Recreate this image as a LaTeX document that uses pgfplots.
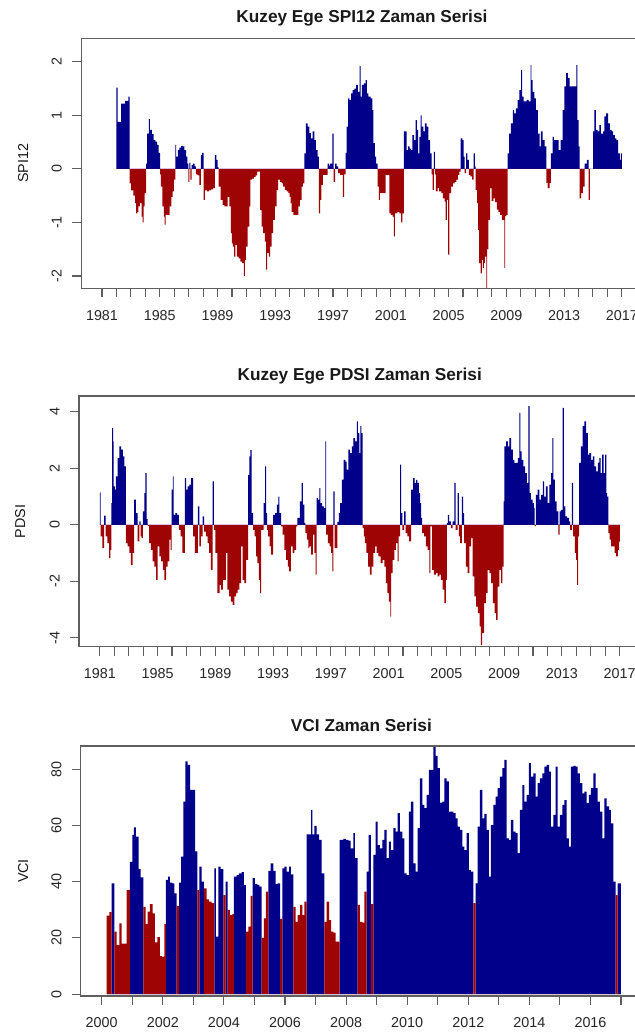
\documentclass[border=0pt]{standalone}
\usepackage{fontspec}
\setmainfont{Liberation Sans}
\usepackage{pgfplots}
\usepackage{pgfplotstable}
\pgfplotsset{compat=1.18}

\definecolor{barblue}{RGB}{0,0,139}
\definecolor{barred}{RGB}{158,4,4}
\definecolor{frame}{RGB}{95,95,95}

% SPI12: value holds from t to the next t
\pgfplotstableread{
t v
1982.00 1.52
1982.08 0.88
1982.32 1.22
1982.60 1.27
1982.82 1.35
1982.92 -0.27
1983.01 -0.40
1983.17 -0.50
1983.29 -0.64
1983.36 -0.83
1983.45 -0.80
1983.52 -0.70
1983.63 -0.64
1983.75 -0.89
1983.82 -1.00
1983.88 -0.70
1983.95 -0.45
1984.05 0.10
1984.12 0.66
1984.24 0.93
1984.32 0.73
1984.45 0.65
1984.58 0.54
1984.70 0.51
1984.82 0.45
1984.93 0.30
1985.02 -0.10
1985.08 -0.33
1985.18 -0.70
1985.28 -0.89
1985.34 -1.04
1985.40 -0.86
1985.68 -0.70
1985.80 -0.52
1985.90 -0.42
1985.98 -0.20
1986.08 0.45
1986.14 0.23
1986.25 0.35
1986.36 0.40
1986.48 0.43
1986.60 0.42
1986.70 0.35
1986.82 0.23
1986.92 0.10
1986.98 -0.24
1987.06 0.12
1987.12 -0.20
1987.20 0.07
1987.30 0.10
1987.42 0.05
1987.50 -0.10
1987.62 -0.12
1987.74 -0.30
1987.84 0.26
1987.94 0.30
1988.04 -0.58
1988.12 -0.40
1988.28 -0.42
1988.40 -0.40
1988.55 -0.38
1988.70 -0.36
1988.82 0.26
1988.92 0.17
1989.00 0.03
1989.08 -0.33
1989.22 -0.58
1989.35 -0.67
1989.47 -0.70
1989.60 -0.70
1989.70 -0.52
1989.82 -0.70
1989.93 -1.20
1990.00 -1.39
1990.07 -1.45
1990.15 -1.64
1990.24 -1.42
1990.34 -1.64
1990.46 -1.67
1990.58 -1.73
1990.70 -1.76
1990.82 -2.00
1990.89 -1.70
1990.97 -1.45
1991.08 -1.08
1991.20 -0.70
1991.28 -0.20
1991.40 -0.18
1991.52 -0.15
1991.64 -0.12
1991.75 -0.05
1991.95 -0.77
1992.06 -1.08
1992.16 -1.20
1992.28 -1.36
1992.37 -1.88
1992.44 -1.57
1992.55 -1.64
1992.64 -1.45
1992.75 -1.20
1992.86 -0.95
1992.97 -0.70
1993.09 -0.39
1993.20 -0.20
1993.32 -0.24
1993.44 -0.27
1993.55 -0.33
1993.67 -0.39
1993.79 -0.42
1993.90 -0.45
1994.00 -0.52
1994.06 -0.64
1994.14 -0.80
1994.25 -0.86
1994.60 -0.70
1994.70 -0.58
1994.82 -0.33
1994.92 -0.27
1995.02 0.29
1995.12 0.85
1995.24 0.79
1995.36 0.67
1995.47 0.57
1995.58 0.70
1995.70 0.54
1995.82 0.35
1995.93 0.23
1996.02 -0.83
1996.10 -0.58
1996.20 -0.30
1996.29 -0.11
1996.62 0.10
1996.72 0.06
1996.79 0.10
1996.96 0.66
1997.04 -0.24
1997.14 0.10
1997.25 0.05
1997.36 -0.08
1997.50 -0.11
1997.68 -0.52
1997.76 -0.10
1997.88 0.30
1997.94 0.79
1998.04 1.32
1998.14 1.29
1998.25 1.41
1998.36 1.47
1998.48 1.50
1998.60 1.57
1998.72 1.44
1998.84 1.92
1998.91 1.35
1999.00 1.57
1999.14 1.60
1999.25 1.66
1999.34 1.41
1999.45 1.35
1999.60 1.32
1999.72 1.10
1999.80 0.48
1999.90 0.23
1999.98 0.10
2000.08 -0.33
2000.18 -0.58
2000.25 -0.45
2000.65 -0.11
2000.90 -0.83
2001.00 -0.86
2001.12 -0.89
2001.22 -1.26
2001.29 -0.83
2001.45 -0.80
2001.60 -0.83
2001.72 -1.00
2001.80 -0.83
2001.90 0.70
2002.10 0.35
2002.20 0.42
2002.30 0.38
2002.40 0.35
2002.50 0.63
2002.62 0.54
2002.72 0.91
2002.80 0.73
2002.90 0.29
2002.98 0.60
2003.06 1.00
2003.14 0.79
2003.25 0.70
2003.36 0.85
2003.48 0.79
2003.60 0.54
2003.72 0.29
2003.82 -0.10
2003.90 -0.39
2003.98 0.32
2004.06 -0.10
2004.12 -0.42
2004.25 -0.36
2004.35 -0.42
2004.50 -0.45
2004.60 -0.55
2004.72 -0.61
2004.80 -0.95
2004.88 -0.58
2004.97 -1.60
2005.05 -0.45
2005.18 -0.33
2005.30 -0.27
2005.42 -0.24
2005.55 -0.20
2005.65 -0.11
2005.75 -0.05
2005.84 0.57
2005.95 0.54
2006.04 0.23
2006.12 -0.08
2006.22 0.29
2006.30 0.17
2006.40 -0.11
2006.52 -0.14
2006.64 -0.20
2006.74 0.29
2006.82 0.05
2006.88 -0.39
2006.98 -0.64
2007.05 -1.14
2007.12 -1.76
2007.22 -1.95
2007.30 -1.70
2007.38 -1.85
2007.45 -1.76
2007.52 -1.64
2007.62 -2.26
2007.68 -1.50
2007.76 -0.95
2007.88 -0.36
2007.98 -0.60
2008.10 -0.55
2008.22 -0.62
2008.34 -0.76
2008.45 -0.80
2008.57 -0.86
2008.70 -0.95
2008.86 -1.85
2008.92 -0.88
2009.00 -0.86
2009.10 0.29
2009.20 0.66
2009.32 0.85
2009.45 1.10
2009.55 1.04
2009.66 1.13
2009.78 1.29
2009.90 1.47
2010.02 1.85
2010.09 1.35
2010.20 1.26
2010.40 1.29
2010.55 1.26
2010.68 1.94
2010.74 1.66
2010.82 1.44
2010.94 1.32
2011.05 1.10
2011.18 0.66
2011.30 0.42
2011.40 0.70
2011.52 0.54
2011.65 0.42
2011.78 -0.26
2011.86 -0.36
2012.00 -0.26
2012.08 0.29
2012.20 0.60
2012.30 0.54
2012.48 0.54
2012.62 0.35
2012.76 0.54
2012.90 1.10
2013.02 1.54
2013.14 1.79
2013.26 1.70
2013.38 1.54
2013.85 1.94
2013.92 0.91
2014.00 0.42
2014.08 -0.55
2014.18 -0.45
2014.30 -0.33
2014.42 0.10
2014.58 0.17
2014.70 -0.58
2014.78 0.00
2015.02 0.70
2015.10 1.10
2015.20 0.73
2015.32 0.70
2015.45 0.82
2015.55 0.66
2015.70 0.70
2015.80 0.98
2015.92 1.04
2016.05 0.85
2016.18 0.73
2016.30 0.70
2016.40 0.63
2016.52 0.57
2016.62 0.54
2016.74 0.29
2016.86 0.17
2016.94 0.29
2017.00 0.00
}\spitable

% PDSI
\pgfplotstableread{
t v
1981.00 1.15
1981.06 -0.41
1981.18 -0.83
1981.30 0.32
1981.40 -0.41
1981.52 -0.65
1981.64 -1.18
1981.74 -0.89
1981.80 0.77
1981.86 3.43
1981.92 2.95
1981.96 1.36
1982.04 1.24
1982.12 1.71
1982.24 2.36
1982.36 2.78
1982.48 2.66
1982.60 2.42
1982.70 2.07
1982.80 -0.65
1982.92 -0.77
1983.04 -1.00
1983.16 -1.42
1983.28 -1.00
1983.38 0.89
1983.50 0.41
1983.62 -0.59
1983.74 0.12
1983.82 -0.41
1983.90 -0.47
1983.98 0.47
1984.08 1.12
1984.16 1.83
1984.24 0.20
1984.32 -0.05
1984.42 -0.65
1984.54 -0.89
1984.66 -1.30
1984.78 -1.48
1984.90 -1.95
1985.00 -0.77
1985.12 -1.12
1985.24 -1.30
1985.36 -1.60
1985.48 -1.95
1985.60 -1.48
1985.70 -1.30
1985.82 -0.53
1985.90 -0.89
1985.98 1.24
1986.06 1.71
1986.12 0.35
1986.24 0.41
1986.36 0.35
1986.48 -0.18
1986.60 -0.41
1986.72 -1.00
1986.90 1.65
1986.98 1.24
1987.08 1.36
1987.20 1.42
1987.32 1.65
1987.46 -0.41
1987.58 -1.00
1987.80 0.65
1987.90 -0.77
1988.00 -0.41
1988.12 0.30
1988.22 -0.24
1988.34 -0.41
1988.46 -0.65
1988.58 -1.00
1988.70 -1.60
1988.82 1.54
1988.90 -0.18
1989.00 -1.00
1989.14 -2.42
1989.30 -2.13
1989.40 -2.30
1989.52 -1.95
1989.74 -1.00
1989.84 -2.30
1989.96 -2.54
1990.08 -2.72
1990.20 -2.84
1990.32 -2.54
1990.44 -2.42
1990.54 -2.30
1990.66 -2.07
1990.78 -0.77
1990.90 -1.95
1991.02 -2.07
1991.14 -1.24
1991.28 1.77
1991.36 2.42
1991.42 2.64
1991.52 0.41
1991.62 -0.18
1991.72 -0.41
1991.82 -1.12
1991.92 -1.36
1992.02 -1.95
1992.10 -2.42
1992.18 -0.18
1992.34 0.77
1992.45 2.07
1992.52 0.41
1992.58 -0.18
1992.66 -0.41
1992.76 -0.77
1992.86 -1.06
1993.00 0.35
1993.14 0.41
1993.26 0.71
1993.36 1.00
1993.44 0.41
1993.56 -0.06
1993.66 -0.35
1993.78 -0.89
1993.90 -1.24
1994.02 -1.48
1994.12 -1.65
1994.24 -0.77
1994.36 -1.00
1994.48 -0.89
1994.60 -0.06
1994.68 0.24
1994.86 0.83
1994.98 1.48
1995.06 0.71
1995.16 0.06
1995.24 -0.30
1995.34 -0.53
1995.44 -0.83
1995.52 -0.77
1995.64 -1.06
1995.76 -0.35
1995.86 -1.00
1995.94 -1.77
1996.02 0.95
1996.10 0.89
1996.20 1.30
1996.28 0.77
1996.40 0.65
1996.52 0.59
1996.62 2.95
1996.68 -0.35
1996.80 -0.65
1996.92 -0.77
1997.02 -1.00
1997.10 -1.65
1997.18 1.18
1997.26 -0.83
1997.46 0.10
1997.56 0.41
1997.64 0.77
1997.76 1.60
1997.88 2.30
1998.00 2.24
1998.10 1.95
1998.22 2.66
1998.34 2.54
1998.46 2.78
1998.56 3.07
1998.68 2.95
1998.80 3.66
1998.88 3.25
1998.98 2.54
1999.04 3.49
1999.12 3.25
1999.20 -0.12
1999.28 -0.41
1999.36 -0.65
1999.46 -1.00
1999.58 -1.48
1999.70 -1.77
1999.82 -1.48
1999.94 -1.00
2000.06 -0.77
2000.18 -1.00
2000.30 -1.12
2000.44 -1.36
2000.58 -1.24
2000.70 -1.48
2000.82 -2.07
2000.92 -2.42
2001.02 -2.72
2001.12 -3.25
2001.18 -1.71
2001.28 -1.24
2001.40 -0.89
2001.50 -0.65
2001.62 -1.30
2001.70 -0.41
2001.80 2.13
2001.86 0.41
2001.96 -0.18
2002.08 0.47
2002.18 -0.30
2002.30 -0.41
2002.42 -0.59
2002.56 1.24
2002.70 1.65
2002.80 1.48
2002.90 1.59
2003.00 1.48
2003.10 1.12
2003.18 0.77
2003.26 0.24
2003.32 -0.30
2003.46 -0.41
2003.58 -0.77
2003.70 -0.89
2003.82 -1.71
2003.90 -0.06
2004.02 -1.60
2004.14 -1.77
2004.28 -1.71
2004.40 -1.83
2004.52 -1.77
2004.62 -1.95
2004.74 -2.30
2004.86 -2.78
2004.96 -1.95
2005.04 0.06
2005.10 0.35
2005.20 0.12
2005.32 -0.12
2005.44 0.12
2005.56 1.48
2005.64 -0.18
2005.78 1.12
2005.86 -0.41
2005.96 -0.65
2006.08 1.00
2006.16 0.41
2006.24 -0.65
2006.36 -1.48
2006.48 -1.71
2006.60 -0.77
2006.72 -0.47
2006.82 -1.83
2006.94 -2.54
2007.06 -2.90
2007.18 -3.13
2007.30 -3.60
2007.40 -4.26
2007.48 -3.84
2007.62 -2.78
2007.74 -2.42
2007.86 -1.60
2007.98 -1.71
2008.10 -2.07
2008.22 -2.78
2008.34 -3.13
2008.44 -3.37
2008.56 -2.19
2008.68 -1.60
2008.80 -2.07
2008.88 -1.48
2008.96 0.83
2009.02 2.78
2009.14 2.95
2009.26 2.78
2009.36 3.07
2009.48 2.66
2009.60 2.30
2009.72 2.19
2009.84 2.19
2009.96 2.36
2010.06 3.96
2010.12 2.60
2010.22 2.30
2010.34 2.07
2010.46 1.83
2010.58 1.48
2010.68 4.20
2010.76 1.12
2010.86 0.89
2010.98 0.77
2011.06 0.60
2011.12 -0.05
2011.20 1.06
2011.32 1.24
2011.44 0.89
2011.56 1.06
2011.68 1.54
2011.78 1.00
2011.90 1.36
2012.02 0.77
2012.14 1.42
2012.26 1.83
2012.34 3.07
2012.42 1.60
2012.52 0.83
2012.64 0.47
2012.76 -0.35
2012.84 0.47
2012.94 0.53
2013.06 4.14
2013.14 0.65
2013.24 0.30
2013.36 0.24
2013.48 0.12
2013.58 -0.18
2013.70 1.48
2013.78 -0.41
2013.90 -1.00
2013.98 -1.24
2014.06 -2.13
2014.12 -0.41
2014.20 2.19
2014.32 2.78
2014.44 3.49
2014.56 3.66
2014.68 3.25
2014.80 2.48
2014.90 2.54
2015.02 2.30
2015.14 2.42
2015.26 2.07
2015.38 1.89
2015.50 2.20
2015.60 2.36
2015.68 1.83
2015.78 2.48
2015.90 1.83
2016.00 2.48
2016.08 1.12
2016.14 1.00
2016.22 -0.30
2016.30 -0.53
2016.42 -0.77
2016.54 -0.77
2016.66 -1.00
2016.76 -1.12
2016.88 -0.89
2016.96 -0.60
2017.02 0.00
}\pdsitable

% VCI: c = 1 blue, c = 0 red
\pgfplotstableread{
t v c
2000.163 27.9 0
2000.250 29.1 0
2000.326 39.4 1
2000.414 22.2 0
2000.490 17.4 0
2000.577 25.1 0
2000.654 17.9 0
2000.817 37.0 0
2000.926 47.0 1
2001.003 56.6 1
2001.057 59.3 1
2001.123 56.0 1
2001.210 44.4 1
2001.276 41.5 1
2001.363 31.0 0
2001.439 24.9 0
2001.505 29.3 0
2001.581 32.0 0
2001.669 28.7 0
2001.745 18.4 0
2001.822 20.2 0
2001.909 13.5 0
2001.974 13.3 0
2002.051 24.9 0
2002.105 40.6 1
2002.171 41.8 1
2002.236 39.6 1
2002.313 39.4 1
2002.378 35.8 1
2002.455 31.4 0
2002.531 39.6 1
2002.597 48.9 1
2002.673 68.4 1
2002.739 82.7 1
2002.815 81.5 1
2002.892 72.6 1
2002.968 72.6 1
2003.055 50.7 1
2003.130 37.0 0
2003.196 45.3 1
2003.272 40.0 1
2003.348 37.6 0
2003.436 33.7 0
2003.512 32.9 0
2003.599 32.3 0
2003.686 44.7 1
2003.741 20.4 1
2003.817 45.3 1
2003.894 44.4 1
2003.981 35.2 0
2004.057 40.0 1
2004.123 29.9 0
2004.199 28.1 0
2004.276 28.4 0
2004.330 41.8 1
2004.418 42.3 1
2004.494 42.9 1
2004.582 43.4 1
2004.658 38.7 1
2004.723 22.2 0
2004.800 24.0 0
2004.876 34.9 0
2004.942 41.2 1
2005.018 39.1 1
2005.095 38.8 1
2005.160 38.2 1
2005.236 20.0 0
2005.313 26.9 0
2005.378 36.4 0
2005.455 43.8 1
2005.531 46.5 1
2005.618 43.8 1
2005.695 39.1 1
2005.760 39.4 1
2005.837 26.7 0
2005.913 44.7 1
2005.979 45.3 1
2006.055 43.5 1
2006.132 45.3 1
2006.197 42.6 1
2006.273 31.0 0
2006.350 25.7 0
2006.415 28.1 0
2006.492 31.7 0
2006.568 28.1 0
2006.634 32.9 0
2006.710 56.8 1
2006.787 56.8 1
2006.852 65.5 1
2006.896 56.8 1
2006.961 59.8 1
2007.038 56.8 1
2007.114 54.8 1
2007.202 42.9 1
2007.289 25.7 0
2007.365 32.9 0
2007.442 26.3 0
2007.507 22.2 0
2007.583 21.8 0
2007.660 18.6 0
2007.790 54.8 1
2007.909 55.2 1
2007.997 54.8 1
2008.073 54.6 1
2008.149 51.8 1
2008.237 57.2 1
2008.291 48.3 1
2008.379 31.7 0
2008.455 25.7 0
2008.531 25.4 0
2008.597 36.4 0
2008.673 43.5 1
2008.739 56.6 1
2008.815 32.0 0
2008.891 49.5 1
2008.968 61.3 1
2009.033 53.0 1
2009.110 51.8 1
2009.186 54.8 1
2009.251 58.4 1
2009.328 48.3 1
2009.404 54.2 1
2009.470 51.2 1
2009.546 59.0 1
2009.622 57.8 1
2009.688 64.3 1
2009.764 57.8 1
2009.841 55.4 1
2009.906 42.9 1
2009.983 42.3 1
2010.059 64.9 1
2010.124 68.4 1
2010.201 46.5 1
2010.277 43.5 1
2010.343 59.0 1
2010.419 76.7 1
2010.495 67.3 1
2010.561 66.1 1
2010.637 70.8 1
2010.714 79.7 1
2010.779 79.7 1
2010.855 88.3 1
2010.932 84.7 1
2010.997 80.3 1
2011.074 68.1 1
2011.150 68.4 1
2011.215 76.7 1
2011.292 75.6 1
2011.368 64.9 1
2011.434 64.9 1
2011.510 64.3 1
2011.586 62.5 1
2011.652 59.5 1
2011.728 58.4 1
2011.805 52.4 1
2011.870 51.2 1
2011.947 57.2 1
2012.023 44.1 1
2012.088 43.5 1
2012.165 32.3 0
2012.241 39.4 1
2012.307 59.5 1
2012.383 72.6 1
2012.459 62.5 1
2012.525 64.1 1
2012.601 58.4 1
2012.678 41.8 1
2012.743 60.1 1
2012.820 67.3 1
2012.896 70.2 1
2012.961 73.2 1
2013.038 77.3 1
2013.114 80.3 1
2013.180 83.3 1
2013.256 55.4 1
2013.332 54.8 1
2013.398 61.9 1
2013.474 57.8 1
2013.550 57.2 1
2013.616 50.1 1
2013.692 65.5 1
2013.769 74.3 1
2013.834 68.4 1
2013.911 70.8 1
2013.987 82.1 1
2014.052 77.3 1
2014.129 78.5 1
2014.205 70.2 1
2014.271 75.0 1
2014.347 76.7 1
2014.423 78.5 1
2014.489 80.9 1
2014.565 81.5 1
2014.642 79.1 1
2014.707 59.5 1
2014.784 63.7 1
2014.860 80.9 1
2014.925 59.5 1
2015.002 63.7 1
2015.078 67.3 1
2015.143 69.0 1
2015.220 55.4 1
2015.296 52.4 1
2015.362 80.9 1
2015.438 81.1 1
2015.514 80.9 1
2015.580 78.5 1
2015.656 75.0 1
2015.733 71.4 1
2015.798 72.0 1
2015.874 67.9 1
2015.951 70.8 1
2016.016 73.2 1
2016.093 78.5 1
2016.169 73.2 1
2016.235 68.4 1
2016.311 64.9 1
2016.387 55.4 1
2016.453 69.6 1
2016.529 66.7 1
2016.606 65.5 1
2016.671 60.7 1
2016.747 40.0 1
2016.824 35.2 0
2016.889 39.4 1
2016.998 0.0 0
}\vcitable

\pgfplotsset{
  rpanel/.style={
    scale only axis,
    height=250bp,
    axis line style={frame, line width=1.1bp},
    every tick/.style={frame, line width=1.1bp},
    major tick length=9bp,
    minor tick length=9bp,
    tick align=outside,
    tick pos=left,
    tick label style={font=\fontsize{14.4}{16}\selectfont, text=black!85},
    xticklabel style={anchor=base},
    xticklabel shift=22.7bp,
    yticklabel style={rotate=90, anchor=base},
    yticklabel shift=10.5bp,
    axis on top,
  },
  pos/.style={const plot, fill=barblue, draw=none},
  neg/.style={const plot, fill=barred, draw=none},
}

\begin{document}
\begin{tikzpicture}[x=1bp, y=1bp]

% --- SPI12 ---
\begin{axis}[rpanel,
  at={(81.2bp,-288.3bp)}, anchor=south west, width=561.4bp,
  xmin=1979.56, xmax=2018.44, ymin=-2.23, ymax=2.44,
  xtick={1981,1985,1989,1993,1997,2001,2005,2009,2013,2017},
  xticklabels={1981,1985,1989,1993,1997,2001,2005,2009,2013,2017},
  minor x tick num=3,
  ytick={-2,-1,0,1,2}, yticklabels={-2,-1,0,1,2}]
  \addplot[pos] table[x=t, y expr={max(\thisrow{v},0)}] {\spitable} \closedcycle;
  \addplot[neg] table[x=t, y expr={min(\thisrow{v},0)}] {\spitable} \closedcycle;
\end{axis}

% --- PDSI ---
\begin{axis}[rpanel,
  at={(79bp,-646.7bp)}, anchor=south west, width=561.4bp, height=250.7bp,
  xmin=1979.56, xmax=2018.44, ymin=-4.32, ymax=4.56,
  xtick={1981,1985,1989,1993,1997,2001,2005,2009,2013,2017},
  xticklabels={1981,1985,1989,1993,1997,2001,2005,2009,2013,2017},
  minor x tick num=3,
  ytick={-4,-2,0,2,4}, yticklabels={-4,-2,0,2,4}]
  \addplot[pos] table[x=t, y expr={max(\thisrow{v},0)}] {\pdsitable} \closedcycle;
  \addplot[neg] table[x=t, y expr={min(\thisrow{v},0)}] {\pdsitable} \closedcycle;
\end{axis}

% --- VCI ---
\begin{axis}[rpanel,
  at={(80.9bp,-996bp)}, anchor=south west, width=560.9bp,
  xmin=1999.32, xmax=2017.68, ymin=-0.7, ymax=88.2,
  xtick={2000,2002,2004,2006,2008,2010,2012,2014,2016},
  xticklabels={2000,2002,2004,2006,2008,2010,2012,2014,2016},
  minor xtick={2001,2003,2005,2007,2009,2011,2013,2015,2017},
  ytick={0,20,40,60,80}, yticklabels={0,20,40,60,80}]
  \addplot[pos] table[x=t, y expr={\thisrow{v}*\thisrow{c}}] {\vcitable} \closedcycle;
  \addplot[neg] table[x=t, y expr={\thisrow{v}*(1-\thisrow{c})}] {\vcitable} \closedcycle;
\end{axis}

% titles and axis names
\begin{scope}[every node/.style={text=black!90}]
\node[anchor=base, font=\bfseries\fontsize{17.3}{20}\selectfont] at (361.9,-22.5) {Kuzey Ege SPI12 Zaman Serisi};
\node[anchor=base, font=\bfseries\fontsize{17.3}{20}\selectfont] at (359.7,-380) {Kuzey Ege PDSI Zaman Serisi};
\node[anchor=base, font=\bfseries\fontsize{17.3}{20}\selectfont] at (361.4,-731) {VCI Zaman Serisi};
\node[anchor=base, rotate=90, font=\fontsize{14.4}{16}\selectfont] at (28,-163.3) {SPI12};
\node[anchor=base, rotate=90, font=\fontsize{14.4}{16}\selectfont] at (25,-521.3) {PDSI};
\node[anchor=base, rotate=90, font=\fontsize{14.4}{16}\selectfont] at (28,-871) {VCI};
\end{scope}

\pgfresetboundingbox
\useasboundingbox (0,0) rectangle (635,-1035);
\end{tikzpicture}
\end{document}
